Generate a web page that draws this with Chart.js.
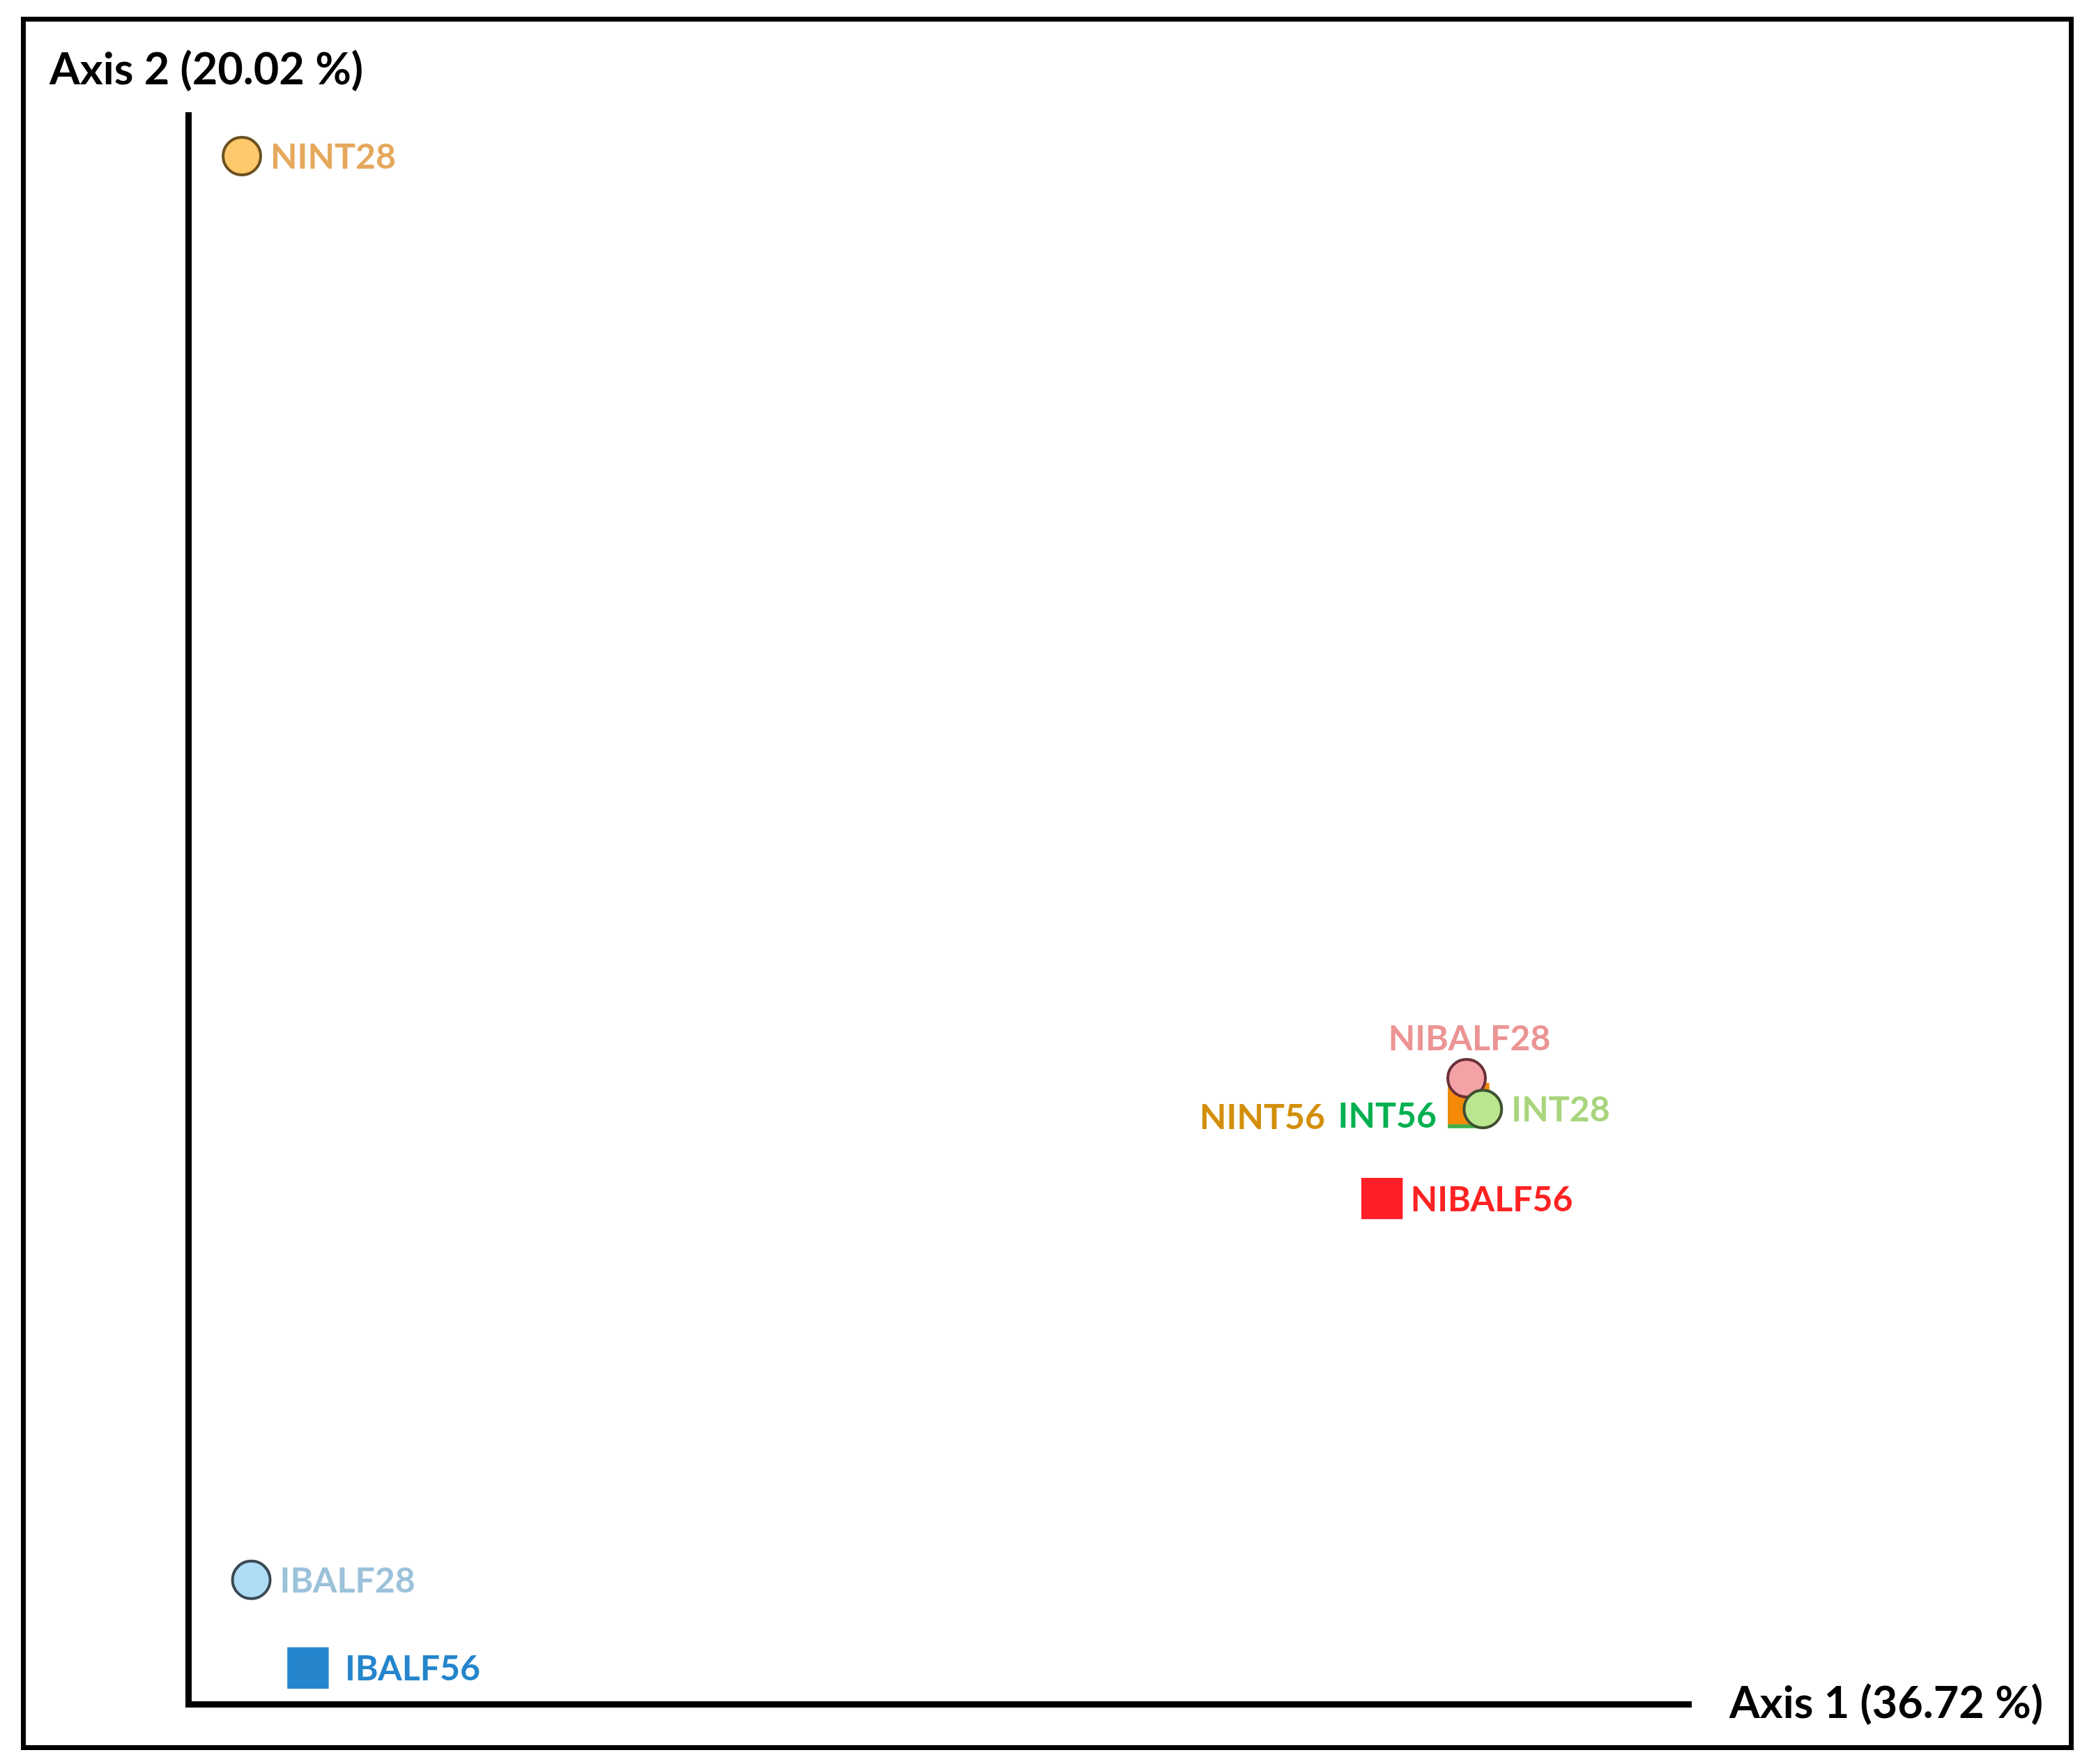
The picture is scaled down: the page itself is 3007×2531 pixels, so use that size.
<!DOCTYPE html>
<html>
<head>
<meta charset="utf-8">
<title>PCoA</title>
<script src="https://cdn.jsdelivr.net/npm/chart.js@4.4.1/dist/chart.umd.min.js"></script>
<style>
  html, body { margin: 0; padding: 0; background: #fff; }
  #wrap { width: 3007px; height: 2531px; }
</style>
</head>
<body>
<div id="wrap"><canvas id="myChart" width="3007" height="2531"></canvas></div>
<script>

  /*-------------------------------------------------------------------------------
    DATA  (Chart.js draws dataset 0 on top, so topmost sample comes first)
  -------------------------------------------------------------------------------*/

  let samples = ['INT28', 'NIBALF28', 'NINT56', 'INT56', 'NIBALF56', 'NINT28', 'IBALF28', 'IBALF56'];
  let axis1 = [0.2461, 0.2380, 0.2390, 0.2390, 0.1958, -0.3732, -0.3685, -0.3402];
  let axis2 = [-0.0879, -0.0743, -0.0855, -0.0872, -0.1273, 0.3319, -0.2953, -0.3341];
  let axisTitles = ['Axis 1 (36.72 %)', 'Axis 2 (20.02 %)'];

  // marker look per sample
  let shapes = ['circle', 'circle', 'rect', 'rect', 'rect', 'circle', 'circle', 'rect'];
  let fills = ['#B9E68E', '#F4A2A6', '#F58A07', '#3DAF48', '#FF1F26', '#FFC86A', '#AEDCF5', '#2586CE'];
  let edges = ['#3E5030', '#6A3038', '#F58A07', '#3DAF48', '#FF1F26', '#6B5020', '#3A4A55', '#2586CE'];
  let labelColors = ['#A9D57D', '#EC9494', '#D38F0B', '#00B050', '#FF2222', '#E6A85C', '#9CC2DA', '#2585CC'];
  let labelSide = ['right', 'above', 'left', 'left', 'right', 'right', 'right', 'right'];
  let labelShift = [0, 0, 160, 0, 0, 0, 0, 12];
  let labelDy = [2, 0, 20, 13, 2, 2, 2, 2];

  /* datasets, one per sample
  -----------------------------------------------*/

  let datasets = samples.map(function(name, i) {
      let sq = shapes[i] === 'rect';
      return {
          label: name,
          data: [{x: axis1[i], y: axis2[i]}],
          pointStyle: shapes[i],
          pointRadius: sq ? 42 : 27,
          pointBorderWidth: sq ? 0 : 4,
          backgroundColor: fills[i],
          borderColor: edges[i],
          clip: false
      };
  });

  /* frame, axis titles and point labels
  -----------------------------------------------*/

  let decor = {
      id: 'decor',
      afterDraw: function(chart) {
          let ctx = chart.ctx;
          let area = chart.chartArea;
          let sx = chart.scales.x, sy = chart.scales.y;
          ctx.save();

          ctx.strokeStyle = '#000';
          ctx.lineWidth = 7;
          ctx.strokeRect(33.5, 27.5, 2938, 2480);

          ctx.fillStyle = '#000';
          ctx.font = 'bold 63px Lato';
          ctx.textBaseline = 'middle';
          ctx.textAlign = 'left';
          ctx.fillText(axisTitles[1], 71, area.top - 64);
          ctx.fillText(axisTitles[0], area.right + 55, area.bottom);

          ctx.font = 'bold 50px Lato';
          samples.forEach(function(name, i) {
              let px = sx.getPixelForValue(axis1[i]);
              let py = sy.getPixelForValue(axis2[i]) + labelDy[i];
              ctx.fillStyle = labelColors[i];
              if (labelSide[i] === 'above') {
                  ctx.textAlign = 'center';
                  ctx.fillText(name, px + 4, py - 56);
              } else if (labelSide[i] === 'left') {
                  ctx.textAlign = 'right';
                  ctx.fillText(name, px - 46 - labelShift[i], py);
              } else {
                  ctx.textAlign = 'left';
                  ctx.fillText(name, px + 41 + labelShift[i], py);
              }
          });
          ctx.restore();
      }
  };

  /* chart
  -----------------------------------------------*/

  function charVisual() {
      let ctx = document.getElementById('myChart').getContext('2d');
      let myChart = new Chart(ctx, {
          type: 'scatter',
          data: { datasets: datasets },
          options: {
              responsive: false,
              animation: false,
              events: [],
              layout: { padding: { left: 270, top: 165, right: 581, bottom: 86 } },
              plugins: {
                  legend: { display: false },
                  tooltip: { enabled: false }
              },
              scales: {
                  x: {
                      min: -0.40, max: 0.35,
                      grid: { display: false, drawTicks: false },
                      ticks: { display: false },
                      border: { display: true, color: '#000', width: 9 }
                  },
                  y: {
                      min: -0.35, max: 0.35,
                      grid: { display: false, drawTicks: false },
                      ticks: { display: false },
                      border: { display: true, color: '#000', width: 9 }
                  }
              }
          },
          plugins: [decor]
      });
  }
  charVisual();

</script>
</body>
</html>
